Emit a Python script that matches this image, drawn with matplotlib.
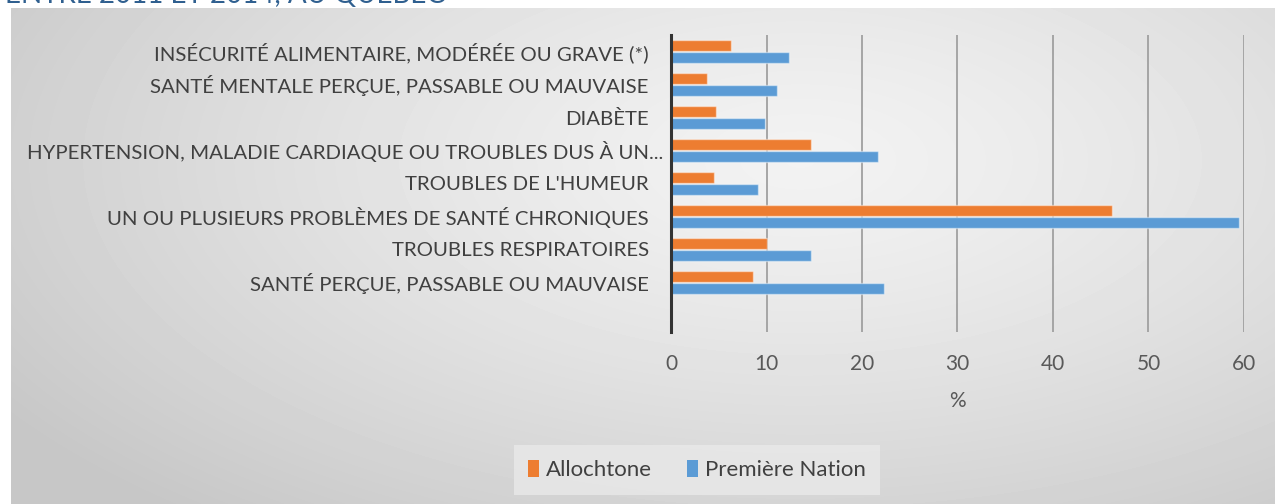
import numpy as np
import matplotlib
matplotlib.use("Agg")
from matplotlib import pyplot as plt
from matplotlib import transforms
from matplotlib.patches import Patch

plt.rcParams["font.family"] = ["Lato", "DejaVu Sans"]

categories = [
    "INSÉCURITÉ ALIMENTAIRE, MODÉRÉE OU GRAVE (*)",
    "SANTÉ MENTALE PERÇUE, PASSABLE OU MAUVAISE",
    "DIABÈTE",
    "HYPERTENSION, MALADIE CARDIAQUE OU TROUBLES DUS À UN...",
    "TROUBLES DE L'HUMEUR",
    "UN OU PLUSIEURS PROBLÈMES DE SANTÉ CHRONIQUES",
    "TROUBLES RESPIRATOIRES",
    "SANTÉ PERÇUE, PASSABLE OU MAUVAISE",
]
allochtone = [6.3, 3.8, 4.7, 14.7, 4.5, 46.2, 10.1, 8.6]
premiere_nation = [12.4, 11.1, 9.8, 21.7, 9.1, 59.5, 14.7, 22.3]
x_ticks = [0, 10, 20, 30, 40, 50, 60]

ORANGE = "#ED7D31"
BLUE = "#5B9BD5"
W, H = 1275, 504


def main():
    fig = plt.figure(figsize=(W / 100, H / 100), dpi=100)
    fig.patch.set_facecolor("white")

    # background panel with soft radial shading
    bg = fig.add_axes([0, 0, 1, 1], zorder=0)
    bg.set_xlim(0, W)
    bg.set_ylim(H, 0)
    bg.axis("off")
    xx, yy = np.meshgrid(np.arange(11, W), np.arange(8, H))
    d = np.sqrt(((xx - 800) / 950.0) ** 2 + ((yy - 160) / 460.0) ** 2)
    d = np.clip(d, 0, 1)
    shade = 0.95 - 0.17 * d ** 1.3
    bg.imshow(shade, cmap="gray", vmin=0, vmax=1, extent=(11, W, H, 8),
              aspect="auto", interpolation="bilinear")
    fig.text(5 / W, 1 - 3 / H, "ENTRE 2011 ET 2014, AU QUÉBEC",
             color="#2F5F8F", fontsize=20, va="baseline", ha="left")

    ax = fig.add_axes([671 / W, 1 - 332 / H, 573 / W, 297 / H], zorder=1)
    ax.patch.set_alpha(0)

    y = np.arange(len(categories))
    off = 0.18
    h = 0.34
    ax.barh(y - off, allochtone, height=h, color=ORANGE,
            edgecolor=(1, 1, 1, 0.45), linewidth=1, zorder=3)
    ax.barh(y + off, premiere_nation, height=h, color=BLUE,
            edgecolor=(1, 1, 1, 0.45), linewidth=1, zorder=3)

    ax.set_xlim(0, 60)
    ax.set_ylim(len(categories) + 0.5, -0.5)
    ax.set_xticks(x_ticks)
    ax.set_xticklabels([str(t) for t in x_ticks])
    ax.set_yticks(y)
    ax.set_yticklabels(categories)
    ax.tick_params(axis="y", length=0, pad=16, labelsize=14.7, labelcolor="#404040")
    ax.tick_params(axis="x", length=0, pad=16, labelsize=15, labelcolor="#595959")
    # the truncated label sits right against the axis, as in the source
    long_label = ax.get_yticklabels()[3]
    long_label.set_transform(long_label.get_transform() +
                             transforms.ScaledTranslation(14 / 100, 0, fig.dpi_scale_trans))
    ax.grid(axis="x", color="#A0A0A0", linewidth=1.3, zorder=1)
    ax.set_axisbelow(True)
    for s in ["top", "right", "bottom"]:
        ax.spines[s].set_visible(False)
    ax.spines["left"].set_color("#333333")
    ax.spines["left"].set_linewidth(2.2)
    ax.spines["left"].set_zorder(4)
    ax.set_xlabel("%", fontsize=15, color="#595959", labelpad=12)

    handles = [Patch(facecolor=ORANGE, label="Allochtone"),
               Patch(facecolor=BLUE, label="Première Nation")]
    leg = fig.legend(handles=handles, loc="center", bbox_to_anchor=(697 / W, 1 - 470 / H),
                     ncol=2, frameon=True, fontsize=16, handlelength=0.5,
                     handleheight=0.8, handletextpad=0.3, columnspacing=1.6,
                     borderpad=0.35)
    leg.get_frame().set_facecolor("#E9E9E9")
    leg.get_frame().set_edgecolor("none")
    leg.get_frame().set_alpha(0.8)
    leg.get_frame().set_boxstyle("square", pad=0.3)
    for t in leg.get_texts():
        t.set_color("#404040")

    fig.savefig("out.png", dpi=100)


if __name__ == "__main__":
    main()
